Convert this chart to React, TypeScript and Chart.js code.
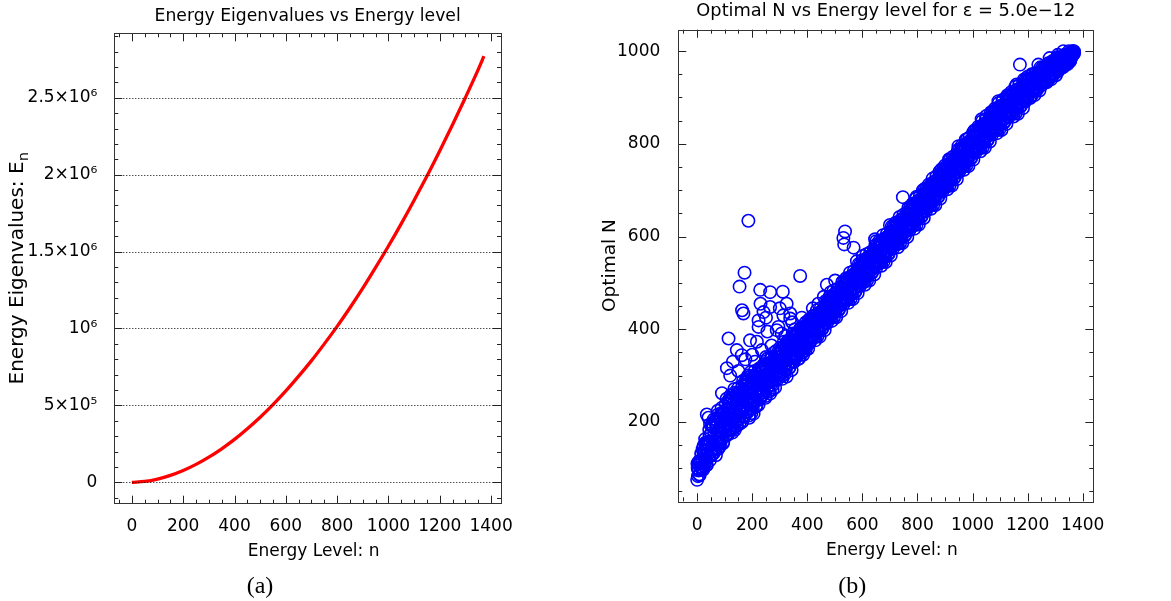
import React, { useEffect, useRef } from 'react';
import { Chart, registerables } from 'chart.js';

Chart.register(...registerables);

const FONT = "'DejaVu Sans', sans-serif";

// ---------- Panel (a): energy eigenvalues ----------
const energyLevels = [0, 50, 100, 150, 200, 250, 300, 350, 400, 450, 500, 550, 600, 650, 700, 750, 800, 850, 900, 950, 1000, 1050, 1100, 1150, 1200, 1250, 1300, 1350, 1372];
const energyValues = [0, 5.8e3, 2.12e4, 4.51e4, 7.69e4, 1.166e5, 1.636e5, 2.18e5, 2.79e5, 3.48e5, 4.23e5, 5.05e5, 5.94e5, 6.9e5, 7.91e5, 9.0e5, 1.014e6, 1.135e6, 1.262e6, 1.397e6, 1.536e6, 1.682e6, 1.834e6, 1.991e6, 2.156e6, 2.326e6, 2.502e6, 2.684e6, 2.77e6];
const energyTickValues = [0, 5e5, 1e6, 1.5e6, 2e6, 2.5e6];
const energyTickLabels = ['0', '5×10⁵', '10⁶', '1.5×10⁶', '2×10⁶', '2.5×10⁶'];

// ---------- Panel (b): optimal N ----------
// even energy levels n = 0, 2, 4, ...
const optimalNEvenLevels = [
  75, 100, 112, 97, 87, 114, 111, 103, 130, 111,
  141, 97, 130, 139, 111, 155, 130, 107, 153, 139,
  155, 125, 183, 117, 155, 175, 141, 129, 190, 152,
  133, 175, 201, 159, 128, 190, 176, 152, 216, 164,
  207, 147, 191, 203, 163, 220, 186, 154, 216, 196,
  212, 181, 239, 172, 209, 229, 194, 182, 243, 204,
  184, 225, 251, 208, 177, 239, 224, 199, 263, 210,
  253, 192, 236, 247, 206, 264, 229, 196, 257, 236,
  252, 221, 278, 211, 248, 268, 233, 220, 281, 242,
  222, 263, 288, 245, 214, 276, 261, 236, 299, 246,
  290, 229, 272, 284, 243, 300, 265, 233, 294, 273,
  288, 257, 314, 248, 285, 304, 269, 257, 318, 279,
  259, 300, 325, 283, 252, 313, 298, 274, 337, 284,
  327, 266, 309, 321, 280, 337, 302, 270, 331, 310,
  321, 299, 341, 293, 320, 335, 309, 301, 346, 318,
  303, 334, 353, 322, 299, 345, 334, 317, 364, 325,
  357, 312, 344, 353, 323, 366, 340, 317, 362, 347,
  359, 337, 379, 331, 358, 373, 347, 339, 384, 356,
  340, 372, 391, 359, 336, 383, 372, 354, 401, 363,
  395, 350, 383, 391, 361, 405, 379, 355, 400, 386,
  397, 375, 418, 369, 396, 412, 386, 377, 423, 395,
  385, 408, 423, 400, 383, 418, 410, 397, 433, 404,
  428, 395, 420, 427, 406, 438, 419, 402, 436, 426,
  435, 418, 451, 415, 436, 447, 428, 423, 457, 437,
  426, 449, 464, 441, 425, 459, 451, 439, 474, 446,
  470, 437, 462, 469, 447, 480, 461, 443, 477, 467,
  476, 459, 492, 456, 476, 488, 469, 463, 497, 477,
  466, 489, 504, 481, 464, 499, 491, 478, 513, 485,
  509, 476, 501, 508, 486, 519, 500, 482, 516, 506,
  515, 498, 531, 495, 515, 527, 508, 502, 536, 516,
  505, 528, 543, 520, 503, 538, 530, 518, 553, 524,
  549, 516, 541, 548, 526, 559, 540, 523, 557, 546,
  555, 538, 571, 535, 555, 567, 548, 543, 577, 556,
  546, 569, 584, 561, 544, 579, 571, 559, 594, 565,
  589, 556, 581, 588, 566, 599, 580, 563, 597, 586,
  596, 579, 612, 576, 596, 608, 589, 583, 618, 597,
  586, 609, 624, 601, 584, 619, 611, 598, 634, 605,
  630, 597, 622, 629, 607, 640, 621, 603, 638, 627,
  636, 619, 652, 616, 636, 648, 629, 623, 658, 637,
  626, 649, 664, 641, 624, 659, 651, 638, 674, 645,
  670, 637, 662, 669, 648, 680, 661, 644, 678, 668,
  677, 660, 693, 657, 678, 689, 670, 665, 699, 679,
  668, 691, 706, 683, 667, 701, 693, 681, 716, 688,
  712, 679, 704, 711, 690, 722, 703, 686, 720, 710,
  719, 702, 735, 699, 720, 731, 712, 707, 741, 721,
  710, 733, 748, 725, 709, 743, 735, 723, 758, 730,
  754, 721, 746, 753, 732, 764, 745, 728, 762, 752,
  761, 744, 777, 741, 762, 773, 754, 749, 783, 763,
  752, 775, 790, 767, 751, 785, 777, 765, 800, 772,
  796, 763, 788, 795, 774, 806, 787, 770, 804, 794,
  803, 786, 819, 783, 803, 815, 796, 790, 824, 804,
  793, 816, 831, 808, 791, 826, 818, 805, 840, 812,
  836, 803, 828, 835, 813, 846, 827, 809, 843, 833,
  842, 825, 858, 822, 842, 854, 835, 829, 863, 843,
  832, 855, 870, 847, 830, 865, 857, 844, 879, 851,
  875, 842, 866, 873, 852, 884, 865, 847, 881, 870,
  880, 863, 895, 859, 880, 891, 872, 866, 900, 879,
  868, 891, 905, 882, 866, 900, 892, 879, 914, 885,
  910, 877, 901, 908, 887, 919, 900, 882, 916, 905,
  914, 897, 929, 893, 914, 925, 906, 900, 934, 913,
  903, 926, 940, 917, 900, 934, 926, 913, 948, 919,
  939, 915, 933, 938, 922, 946, 932, 920, 945, 937,
  944, 932, 955, 929, 944, 953, 939, 935, 960, 945,
  936, 953, 963, 947, 935, 960, 955, 945, 971, 950,
  968, 944, 962, 967, 951, 975, 961, 949, 974, 966,
  972, 960, 983, 956, 971, 980, 966, 962, 986, 971,
  966, 979, 987, 974, 965, 984, 980, 973, 992, 977,
  989, 975, 986, 988, 979, 994, 986, 978, 994, 989,
  996, 990, 999, 993, 1000,
];
// odd energy levels n = 1, 3, 5, ...
const optimalNOddLevels = [
  110, 83, 95, 115, 85, 114, 103, 132, 98, 119,
  100, 148, 104, 136, 163, 115, 155, 107, 149, 131,
  151, 125, 170, 195, 136, 128, 193, 158, 131, 188,
  206, 140, 157, 205, 143, 190, 157, 224, 142, 183,
  154, 214, 155, 198, 230, 168, 218, 157, 209, 186,
  208, 170, 226, 250, 190, 172, 246, 211, 184, 240,
  257, 183, 207, 254, 184, 239, 205, 271, 183, 229,
  200, 259, 192, 242, 273, 212, 261, 199, 250, 226,
  248, 200, 265, 289, 229, 211, 285, 249, 222, 278,
  295, 221, 244, 291, 209, 276, 242, 308, 219, 265,
  237, 296, 218, 279, 310, 248, 297, 236, 287, 263,
  282, 237, 296, 316, 269, 254, 313, 285, 264, 309,
  323, 264, 283, 321, 256, 309, 282, 336, 265, 302,
  279, 326, 261, 313, 338, 289, 328, 280, 321, 302,
  319, 274, 333, 353, 306, 291, 350, 322, 301, 346,
  360, 301, 320, 358, 293, 346, 319, 373, 302, 339,
  316, 363, 298, 350, 375, 326, 365, 317, 358, 339,
  357, 312, 371, 391, 344, 329, 388, 360, 339, 384,
  390, 344, 359, 389, 337, 381, 359, 402, 345, 376,
  358, 396, 345, 386, 406, 368, 400, 361, 394, 380,
  393, 358, 406, 421, 384, 373, 421, 398, 382, 418,
  429, 382, 398, 428, 376, 420, 398, 441, 385, 415,
  397, 435, 384, 425, 446, 407, 439, 401, 434, 420,
  433, 398, 446, 461, 425, 413, 461, 439, 422, 459,
  470, 423, 439, 469, 418, 461, 439, 483, 426, 457,
  439, 477, 426, 467, 487, 449, 481, 442, 475, 461,
  474, 439, 487, 502, 465, 454, 502, 479, 462, 499,
  510, 463, 479, 509, 457, 501, 479, 522, 465, 496,
  478, 516, 465, 506, 526, 488, 520, 481, 514, 500,
  513, 478, 526, 541, 504, 493, 541, 518, 501, 538,
  549, 502, 518, 548, 496, 540, 518, 562, 505, 535,
  518, 556, 505, 546, 566, 528, 560, 522, 555, 540,
  553, 518, 566, 581, 544, 533, 581, 559, 542, 578,
  590, 543, 559, 589, 537, 581, 559, 603, 546, 576,
  558, 596, 545, 586, 606, 568, 600, 562, 595, 580,
  594, 559, 607, 622, 585, 574, 622, 599, 583, 619,
  630, 583, 599, 629, 577, 621, 599, 642, 586, 616,
  599, 637, 586, 627, 647, 609, 641, 602, 636, 621,
  634, 599, 647, 662, 625, 614, 662, 639, 623, 659,
  670, 623, 639, 669, 617, 661, 639, 682, 626, 656,
  639, 677, 626, 667, 688, 649, 681, 643, 676, 662,
  675, 640, 688, 703, 667, 655, 703, 681, 664, 701,
  712, 665, 681, 711, 660, 703, 681, 725, 668, 699,
  681, 719, 668, 709, 730, 691, 723, 685, 718, 704,
  717, 682, 730, 745, 709, 697, 745, 723, 706, 743,
  754, 707, 723, 753, 702, 745, 723, 767, 710, 741,
  723, 761, 710, 751, 772, 733, 765, 727, 760, 746,
  759, 724, 772, 787, 751, 739, 787, 765, 748, 785,
  796, 749, 765, 795, 744, 787, 765, 809, 752, 783,
  765, 803, 752, 793, 814, 775, 807, 769, 802, 788,
  801, 766, 814, 829, 792, 781, 829, 806, 789, 826,
  837, 790, 806, 836, 784, 828, 806, 849, 792, 823,
  805, 843, 792, 833, 853, 815, 847, 808, 841, 827,
  840, 805, 853, 868, 831, 820, 868, 845, 828, 865,
  876, 829, 845, 875, 823, 867, 845, 888, 831, 862,
  844, 882, 830, 871, 892, 853, 885, 846, 879, 864,
  878, 843, 890, 905, 869, 857, 905, 882, 865, 901,
  912, 865, 880, 910, 859, 902, 880, 923, 866, 896,
  879, 917, 865, 906, 927, 888, 920, 881, 914, 899,
  912, 877, 924, 939, 903, 891, 939, 916, 899, 935,
  941, 904, 916, 940, 899, 933, 916, 950, 906, 930,
  915, 945, 905, 937, 953, 923, 948, 917, 944, 932,
  943, 915, 953, 965, 936, 927, 964, 946, 933, 962,
  965, 936, 946, 965, 933, 960, 947, 974, 939, 958,
  947, 971, 939, 965, 978, 954, 974, 950, 971, 962,
  970, 948, 978, 987, 964, 957, 987, 973, 962, 985,
  985, 968, 974, 985, 966, 983, 975, 992, 970, 982,
  976, 991, 972, 987, 995, 981, 994, 980, 992, 987,
  994, 1000, 997, 999, 996,
];
// points lying above the main band (stragglers and isolated high values)
const outlierLevels = [
  35, 41, 90, 108, 114, 144, 154, 162, 163, 168, 172, 186, 192, 217, 223, 223, 229, 241, 265, 265,
  289, 307, 311, 313, 338, 338, 374, 471, 501, 531, 534, 537, 568, 580, 601, 646, 747, 797, 858, 916,
  949, 1003, 1033, 1094, 1124, 1160, 1172, 1239,
  120, 130, 150, 175, 185, 200, 210, 235, 250, 255, 270, 280, 295, 320, 330, 345, 355, 380, 395, 420,
  440, 460, 485, 250, 230, 300, 325, 650, 700, 820, 880, 980, 1050, 1110, 1200, 1280, 1310, 1330, 1350, 1365,
];
const outlierOptimalN = [
  216, 209, 262, 316, 380, 355, 492, 344, 441, 434, 522, 634, 376, 373, 419, 405, 485, 437, 448, 480,
  398, 391, 481, 430, 434, 423, 515, 496, 505, 597, 583, 611, 576, 547, 558, 594, 685, 686, 707, 764,
  795, 825, 853, 892, 900, 928, 971, 971,
  300, 330, 310, 335, 300, 345, 330, 355, 340, 395, 365, 350, 405, 385, 372, 415, 400, 425, 415, 445,
  455, 470, 480, 425, 455, 445, 455, 590, 625, 700, 740, 810, 860, 895, 945, 985, 992, 1000, 1000, 998,
];

const levelTickValues = [0, 200, 400, 600, 800, 1000, 1200, 1400];
const optimalTickValues = [200, 400, 600, 800, 1000];

// ---------- plugins ----------
const frameTicks = {
  id: 'frameTicks',
  afterDraw(chart: any, _a: any, o: any) {
    const { ctx, chartArea: ca, scales } = chart;
    const xs = scales.x;
    const ys = scales.y;
    ctx.save();
    if (o.yGrid) {
      ctx.strokeStyle = '#000';
      ctx.lineWidth = 1;
      ctx.setLineDash([1, 2]);
      for (const v of o.yGrid) {
        const py = Math.round(ys.getPixelForValue(v)) + 0.5;
        ctx.beginPath();
        ctx.moveTo(ca.left, py);
        ctx.lineTo(ca.right, py);
        ctx.stroke();
      }
      ctx.setLineDash([]);
    }
    ctx.strokeStyle = '#222';
    ctx.lineWidth = 1;
    const isMajor = (v: number, step: number) => Math.abs(v / step - Math.round(v / step)) < 1e-6;
    const start = (min: number, step: number) => Math.ceil(min / step) * step;
    for (let v = start(xs.min, o.xMinor); v <= xs.max; v += o.xMinor) {
      const px = Math.round(xs.getPixelForValue(v)) + 0.5;
      const len = isMajor(v, o.xMajor) ? 8 : 4;
      ctx.beginPath();
      ctx.moveTo(px, ca.bottom);
      ctx.lineTo(px, ca.bottom - len);
      ctx.moveTo(px, ca.top);
      ctx.lineTo(px, ca.top + len);
      ctx.stroke();
    }
    for (let v = start(ys.min, o.yMinor); v <= ys.max; v += o.yMinor) {
      const py = Math.round(ys.getPixelForValue(v)) + 0.5;
      const len = isMajor(v, o.yMajor) ? 8 : 4;
      ctx.beginPath();
      ctx.moveTo(ca.left, py);
      ctx.lineTo(ca.left + len, py);
      ctx.moveTo(ca.right, py);
      ctx.lineTo(ca.right - len, py);
      ctx.stroke();
    }
    ctx.strokeStyle = '#333';
    ctx.strokeRect(Math.round(ca.left) + 0.5, Math.round(ca.top) + 0.5, Math.round(ca.right - ca.left), Math.round(ca.bottom - ca.top));
    ctx.restore();
  },
};

const panelText = {
  id: 'panelText',
  afterDraw(chart: any, _a: any, o: any) {
    const { ctx, chartArea: ca } = chart;
    const cx = (ca.left + ca.right) / 2;
    const cy = (ca.top + ca.bottom) / 2;
    ctx.save();
    ctx.fillStyle = '#000';
    ctx.textAlign = 'center';
    ctx.textBaseline = 'alphabetic';
    ctx.font = `${o.titleSize}px ${FONT}`;
    ctx.fillText(o.title, cx, o.titleY);
    ctx.font = `17px ${FONT}`;
    ctx.fillText(o.xLabel, cx + o.xLabelDx, o.xLabelY);
    ctx.save();
    ctx.translate(o.yLabelX, cy);
    ctx.rotate(-Math.PI / 2);
    ctx.textAlign = 'left';
    const mainFont = `${o.yLabelSize}px ${FONT}`;
    const subFont = `${Math.round(o.yLabelSize * 0.7)}px ${FONT}`;
    ctx.font = mainFont;
    const w1 = ctx.measureText(o.yLabel).width;
    let w2 = 0;
    if (o.ySub) {
      ctx.font = subFont;
      w2 = ctx.measureText(o.ySub).width;
      ctx.font = mainFont;
    }
    const s = -(w1 + w2) / 2;
    ctx.fillText(o.yLabel, s, 0);
    if (o.ySub) {
      ctx.font = subFont;
      ctx.fillText(o.ySub, s + w1 + 0.5, o.yLabelSize * 0.22);
    }
    ctx.restore();
    ctx.font = `24px 'Liberation Serif', serif`;
    ctx.textAlign = 'center';
    ctx.fillText(o.caption, o.captionX, o.captionY);
    ctx.restore();
  },
};

const tickFont = { size: 17, family: FONT };
const setTicks = (vals: number[]) => (s: any) => {
  s.ticks = vals.map((v) => ({ value: v }));
};

function makeLeft(canvas: HTMLCanvasElement) {
  return new Chart(canvas, {
    type: 'line',
    data: {
      datasets: [
        {
          data: energyLevels.map((n, i) => ({ x: n, y: energyValues[i] })),
          borderColor: '#ff0000',
          borderWidth: 3.3,
          pointRadius: 0,
          fill: false,
          cubicInterpolationMode: 'monotone',
        },
      ],
    },
    options: {
      animation: false,
      responsive: false,
      events: [],
      layout: { padding: { left: 0, top: 33.3, right: 590 - 501, bottom: 0 } },
      plugins: {
        legend: { display: false },
        tooltip: { enabled: false },
        frameTicks: { xMinor: 50, xMajor: 200, yMinor: 1e5, yMajor: 5e5, yGrid: energyTickValues },
        panelText: {
          title: 'Energy Eigenvalues vs Energy level',
          titleSize: 17.2,
          titleY: 20.7,
          xLabel: 'Energy Level: n',
          xLabelDx: 6,
          xLabelY: 555.7,
          yLabel: 'Energy Eigenvalues: E',
          ySub: 'n',
          yLabelSize: 20,
          yLabelX: 23.3,
          caption: '(a)',
          captionX: 260,
          captionY: 593,
        },
      } as any,
      scales: {
        x: {
          type: 'linear',
          min: -68.5,
          max: 1438.5,
          grid: { display: false },
          border: { display: false },
          afterBuildTicks: setTicks(levelTickValues),
          ticks: { padding: 5, color: '#000', font: tickFont, maxRotation: 0, autoSkip: false, callback: (v: any) => String(v) },
          afterFit: (s: any) => {
            s.height = 601 - 503.7;
          },
        },
        y: {
          type: 'linear',
          min: -139000,
          max: 2919000,
          grid: { display: false },
          border: { display: false },
          afterBuildTicks: setTicks(energyTickValues),
          ticks: {
            padding: 9,
            color: '#000',
            font: tickFont,
            autoSkip: false,
            callback: (v: any) => {
              const i = energyTickValues.indexOf(Number(v));
              return i >= 0 ? energyTickLabels[i] : '';
            },
          },
          afterFit: (s: any) => {
            s.width = 114.3;
          },
        },
      },
    } as any,
    plugins: [frameTicks, panelText],
  } as any);
}

function makeRight(canvas: HTMLCanvasElement) {
  const even = optimalNEvenLevels.map((v, i) => ({ x: 2 * i, y: v }));
  const odd = optimalNOddLevels.map((v, i) => ({ x: 2 * i + 1, y: v }));
  const outs = outlierLevels.map((n, i) => ({ x: n, y: outlierOptimalN[i] }));
  return new Chart(canvas, {
    type: 'scatter',
    data: {
      datasets: [
        {
          data: [...even, ...odd, ...outs],
          borderColor: '#0000ff',
          backgroundColor: 'rgba(0,0,0,0)',
          borderWidth: 1.6,
          pointRadius: 6.2,
          pointHoverRadius: 6.2,
        },
      ],
    },
    options: {
      animation: false,
      responsive: false,
      events: [],
      layout: { padding: { left: 0, top: 29.7, right: 581 - 503.3, bottom: 0 } },
      plugins: {
        legend: { display: false },
        tooltip: { enabled: false },
        frameTicks: { xMinor: 50, xMajor: 200, yMinor: 50, yMajor: 200 },
        panelText: {
          title: 'Optimal N vs Energy level for ε = 5.0e−12',
          titleSize: 17.8,
          titleY: 16.4,
          xLabel: 'Energy Level: n',
          xLabelDx: 6,
          xLabelY: 555,
          yLabel: 'Optimal N',
          ySub: '',
          yLabelSize: 18.5,
          yLabelX: 25,
          caption: '(b)',
          captionX: 262.3,
          captionY: 593,
        },
      } as any,
      scales: {
        x: {
          type: 'linear',
          min: -68.5,
          max: 1438.5,
          grid: { display: false },
          border: { display: false },
          afterBuildTicks: setTicks(levelTickValues),
          ticks: { padding: 6, color: '#000', font: tickFont, maxRotation: 0, autoSkip: false, callback: (v: any) => String(v) },
          afterFit: (s: any) => {
            s.height = 601 - 501.3;
          },
        },
        y: {
          type: 'linear',
          min: 28.75,
          max: 1046.25,
          grid: { display: false },
          border: { display: false },
          afterBuildTicks: setTicks(optimalTickValues),
          ticks: { padding: 10, color: '#000', font: tickFont, autoSkip: false, callback: (v: any) => String(v) },
          afterFit: (s: any) => {
            s.width = 88.3;
          },
        },
      },
    } as any,
    plugins: [frameTicks, panelText],
  } as any);
}

export default function App() {
  const leftRef = useRef<HTMLCanvasElement>(null);
  const rightRef = useRef<HTMLCanvasElement>(null);
  useEffect(() => {
    const a = makeLeft(leftRef.current!);
    const b = makeRight(rightRef.current!);
    return () => {
      a.destroy();
      b.destroy();
    };
  }, []);
  return (
    <div style={{ position: 'absolute', left: 0, top: 0, width: 1171, height: 601, background: '#fff', overflow: 'hidden' }}>
      <canvas ref={leftRef} width={590} height={601} style={{ position: 'absolute', left: 0, top: 0 }} />
      <canvas ref={rightRef} width={581} height={601} style={{ position: 'absolute', left: 590, top: 0 }} />
    </div>
  );
}
